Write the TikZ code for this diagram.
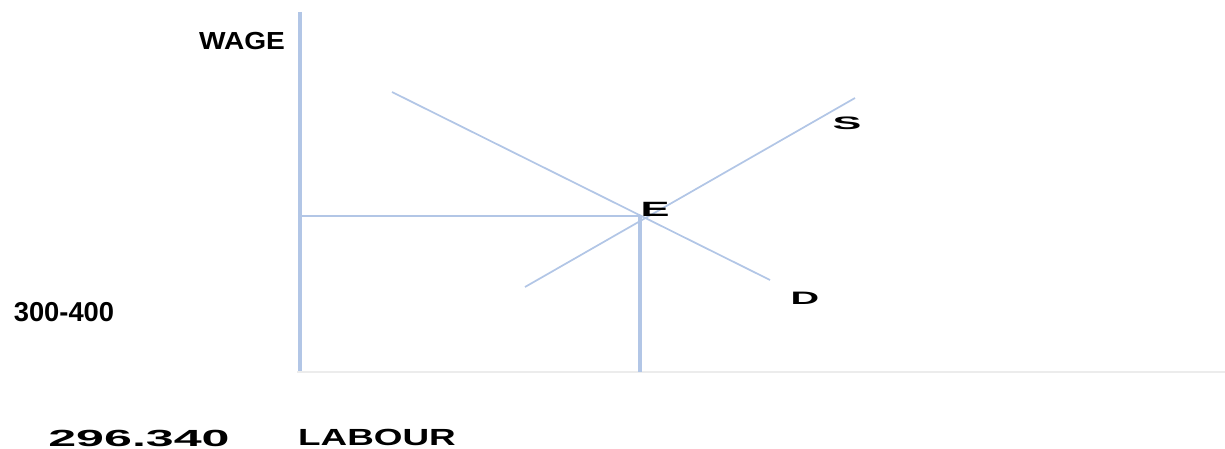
\documentclass[tikz,border=0pt]{standalone}
\usepackage{fontspec}
\setmainfont{Liberation Sans}
\begin{document}
\begin{tikzpicture}[x=0.75pt,y=-0.75pt,
  curve/.style={draw=lineblue,line width=1.3pt},
  axis/.style={draw=lineblue,line width=3pt},
  lbl/.style={inner sep=0pt,font=\bfseries}]
  \definecolor{lineblue}{RGB}{178,198,230}
  \definecolor{axisgrey}{RGB}{236,236,236}
  \useasboundingbox (0,0) rectangle (1225,449);
  % axes
  \coordinate (top) at (300,12);
  \coordinate (origin) at (300,372);
  \coordinate (far) at (1225,372);
  \draw[axis] (top) -- (origin);
  \draw[draw=axisgrey,line width=1pt] (297,372) -- (far);
  % demand and supply
  \coordinate (E) at (640,216);
  \coordinate (Ebase) at (640,372);
  \coordinate (Ewage) at (300,216);
  \coordinate (d1) at (392,92);
  \coordinate (d2) at (770,280);
  \coordinate (s1) at (525,287);
  \coordinate (s2) at (855,98);
  \draw[curve] (d1) -- (d2);
  \draw[curve] (s1) -- (s2);
  \draw[draw=lineblue,line width=1.6pt] (Ewage) -- (E);
  \draw[axis] (E) -- (Ebase);
  % labels
  \node[lbl,font=\fontsize{18.5}{20}\selectfont\bfseries] (wage) at (242,41) {\scalebox{1.14}[1]{WAGE}};
  \node[lbl,font=\fontsize{20.5}{22}\selectfont\bfseries] (range) at (64,312) {300-400};
  \node[lbl,font=\fontsize{17.5}{19}\selectfont\bfseries] (value) at (139,438) {\scalebox{2.15}[1]{296.340}};
  \node[lbl,font=\fontsize{17.5}{19}\selectfont\bfseries] (labour) at (377,437) {\scalebox{1.58}[1]{LABOUR}};
  \node[lbl,font=\fontsize{15.5}{17}\selectfont\bfseries] (Elbl) at (655,209) {\scalebox{2.1}[1]{E}};
  \node[lbl,font=\fontsize{13.5}{15}\selectfont\bfseries] (Slbl) at (847,123) {\scalebox{2.4}[1]{S}};
  \node[lbl,font=\fontsize{13.5}{15}\selectfont\bfseries] (Dlbl) at (805,298) {\scalebox{2.2}[1]{D}};
\end{tikzpicture}
\end{document}
